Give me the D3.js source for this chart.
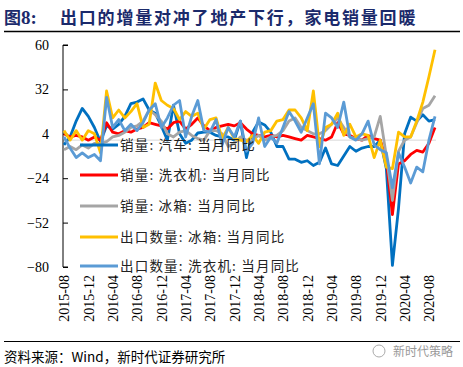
<!DOCTYPE html>
<html><head><meta charset="utf-8">
<script src="https://cdn.jsdelivr.net/npm/d3@7/dist/d3.min.js"></script>
<style>
body{margin:0;background:#fff;}
svg{display:block;}
</style></head>
<body>
<svg id="c" width="463" height="367"></svg>
<script>
// ---- data ----
const startMonth = "2015-08";
const monthCount = 62; // 2015-08 .. 2020-09
const tickLabels = ["2015-08","2015-12","2016-04","2016-08","2016-12","2017-04","2017-08","2017-12","2018-04","2018-08","2018-12","2019-04","2019-08","2019-12","2020-04","2020-08"];
const yTicks = [60,32,4,-24,-52,-80];
const seriesNames = ["销量: 汽车: 当月同比","销量: 洗衣机: 当月同比","销量: 冰箱: 当月同比","出口数量: 冰箱: 当月同比","出口数量: 洗衣机: 当月同比"];
const autoSales = [-3,2,12,20,15,8,-1,9,7,10,15,23,24,26,19,17,9,0,22,4,-2,0,4.5,5,5,3,2,2,0,12,-11,5,11.5,9.6,5,-4,-4,-12,-12,-14,-13,-16,-14,-5,-15,-16,-10,-4,-7,-5,-4,-4,0,-18,-79,-43,4,14.5,12,16,12,13];
const washerSales = [4,2,3,2,0,2,0,11,5,4,6,5,7,8,11,10,9,7,11,12,7,10,14,9,6,8,9,10,9,11,7,4,3,2,3,2,3,2,1,0,3,2,1,0,2,11,4,3,1,0,3,1,0,-13,-47,-15,-13,-9,-6.5,-7.5,-2,8];
const fridgeSales = [-6,-4,-6,-3,-5,-2,-2,-1,2,3,5,8,9,12,19,16,12,4,2,5,6,3,1,0,6,6,4,-4,-2,2,0,0,3,0,2,3,6,12,14,8,6,4,4,6,10,14,8,2,1,0,1,2,15,-10,-38,-7,0,2,11,20,22,28];
const fridgeExport = [6,0,6,0,6,4,-8,31,14,19,14,18,23,8,10,36,25,22,20,13,18,15,17,7,13,14,1,8,1,0,-1,3,-2,5,6,12,13,19,19,14,6,31,-4,8,10,17,3,10,2,4,3,-11,0,-17,-18,5,2,2,12,24,40,57];
const washerExport = [2,-5,-11,-8,-11,-9,-13,27,8,13,6,10,6,11,19,23,8,14,22,25,2,15,25,6,5,13,-3,8,2,12,-7,-2,14,-4,2,-2,8,18,12,5,14,23,-15,17,14,8,24,2,0,4,12,-3,-6,-8,-30,-8,-17,-27,-17,-20,0,15];
const seriesColors = ["#0070C0","#FF0000","#A5A5A5","#FFC000","#5B9BD5"];

const seriesData = [autoSales, washerSales, fridgeSales, fridgeExport, washerExport];

// ---- build ----
const parse = d3.timeParse("%Y-%m");
const fmt = d3.timeFormat("%Y-%m");
const months = d3.range(monthCount).map(i => d3.timeMonth.offset(parse(startMonth), i));

const svg = d3.select("#c");
const L = 63, R = 436, T = 45, B = 267;

const x = d3.scaleLinear().domain([0, monthCount - 1]).range([L + 1, 435]);
const y = d3.scaleLinear().domain([-80, 60]).range([B, T]);

// title
svg.append("text").attr("x", 4).attr("y", 24)
  .attr("font-family", "'Noto Sans CJK SC'").attr("font-weight", "bold")
  .attr("font-size", 17).attr("fill", "#1b2a6b").text("图");
svg.append("text").attr("x", 21).attr("y", 24)
  .attr("font-family", "'Liberation Serif'").attr("font-weight", "bold")
  .attr("font-size", 19).attr("fill", "#1b2a6b").text("8:");
svg.append("text").attr("x", 60).attr("y", 24)
  .attr("font-family", "'Noto Sans CJK SC'").attr("font-weight", "bold")
  .attr("font-size", 17).attr("letter-spacing", "1.8px").attr("fill", "#1b2a6b")
  .text("出口的增量对冲了地产下行，家电销量回暖");
svg.append("line").attr("x1", 4).attr("x2", 460).attr("y1", 31.5).attr("y2", 31.5)
  .attr("stroke", "#000").attr("stroke-width", 1.5);

// zero line
svg.append("line").attr("x1", L).attr("x2", R).attr("y1", y(0)).attr("y2", y(0))
  .attr("stroke", "#d9d9d9").attr("stroke-width", 1);

// y axis
const yAxis = d3.axisLeft(y).tickValues(yTicks).tickSize(-5).tickPadding(14).tickFormat(d3.format("d"));
const gy = svg.append("g").attr("transform", `translate(${L},0)`).call(yAxis);
gy.select(".domain").attr("stroke", "#000").attr("d", `M5,${T}H0V${B}H5`);
gy.selectAll(".tick line").attr("stroke", "#000");
gy.selectAll(".tick text").attr("font-family", "'Liberation Serif'").attr("font-size", 14).attr("fill", "#000");

// x labels (category axis at bottom)
const tickIdx = tickLabels.map(t => months.findIndex(m => fmt(m) === t));
const xAxis = d3.axisBottom(x).tickValues(tickIdx).tickSize(0).tickFormat(i => fmt(months[i]));
const gx = svg.append("g").attr("transform", `translate(0,${B + 8})`).call(xAxis);
gx.select(".domain").remove();
gx.selectAll(".tick text")
  .attr("font-family", "'Liberation Serif'").attr("font-size", 14).attr("fill", "#000")
  .attr("transform", "rotate(-90)").attr("text-anchor", "end")
  .attr("x", 0).attr("y", 0).attr("dx", 0).attr("dy", "0.35em");

// lines
const line = d3.line().x((d, i) => x(i)).y(d => y(d));
seriesData.forEach((s, k) => {
  svg.append("path").datum(s).attr("d", line)
    .attr("fill", "none").attr("stroke", seriesColors[k])
    .attr("stroke-width", 2.8).attr("stroke-linejoin", "round");
});

// legend
const legY = [145, 175, 206, 237, 266];
seriesNames.forEach((n, k) => {
  const g = svg.append("g");
  g.append("line").attr("x1", 80).attr("x2", 118).attr("y1", legY[k]).attr("y2", legY[k])
    .attr("stroke", seriesColors[k]).attr("stroke-width", 3);
  g.append("text").attr("x", 120).attr("y", legY[k] + 5)
    .attr("font-family", "'Noto Sans CJK SC'").attr("font-size", 13.5)
    .attr("letter-spacing", "1.2px").attr("fill", "#222").text(n);
});

// footer
svg.append("line").attr("x1", 4).attr("x2", 460).attr("y1", 341.5).attr("y2", 341.5)
  .attr("stroke", "#000").attr("stroke-width", 1.2);
svg.append("text").attr("x", 4).attr("y", 362)
  .attr("font-family", "'Noto Sans CJK SC'").attr("font-size", 13.5).attr("fill", "#000")
  .text("资料来源：Wind，新时代证券研究所");
// watermark
svg.append("circle").attr("cx", 379).attr("cy", 351).attr("r", 6)
  .attr("fill", "none").attr("stroke", "#aaa").attr("stroke-width", 1);
svg.append("text").attr("x", 393).attr("y", 356)
  .attr("font-family", "'Noto Sans CJK SC'").attr("font-size", 12).attr("fill", "#999")
  .text("新时代策略");
</script>
</body></html>
